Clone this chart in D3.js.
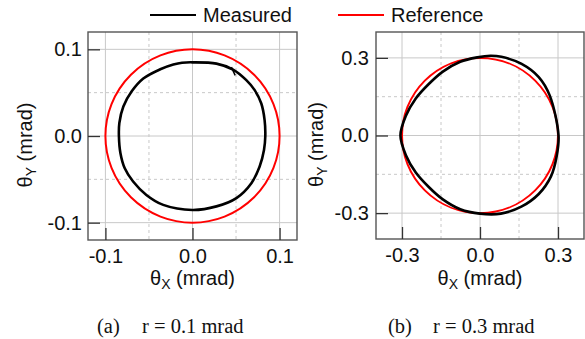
<!DOCTYPE html>
<html lang="en">
<head>
    <meta charset="UTF-8">
    <title>Measured vs reference circles</title>
    <script src="https://cdn.jsdelivr.net/npm/d3@7"></script>
    <style>
        body { margin: 0; background: #fff; }
        text { font-family: "Liberation Sans", Arial, sans-serif; fill: #111; }
        .caption { font-family: "Liberation Serif", "Times New Roman", serif; }
    </style>
</head>
<body>
    <svg width="585" height="339"></svg>
    <script>
        // measured trace, panel (a), r = 0.1 mrad
        const measuredA = [
            [0.000, 0.0850], [-0.012, 0.0846], [-0.022, 0.0825],
            [-0.037, 0.0770], [-0.0565, 0.0663], [-0.0698, 0.0515], [-0.0794, 0.0340],
            [-0.0840, 0.0150], [-0.0845, 0.0], [-0.0828, -0.0195], [-0.0778, -0.0372],
            [-0.0682, -0.0525], [-0.0530, -0.0680], [-0.0336, -0.0795], [0.000, -0.0853],
            [0.0275, -0.0812], [0.0504, -0.0716], [0.0676, -0.0544], [0.0771, -0.0352],
            [0.0821, -0.0161], [0.0836, 0.0], [0.0828, 0.0184], [0.0790, 0.0375],
            [0.0714, 0.0529], [0.0618, 0.0644], [0.0466, 0.0766], [0.0275, 0.0835]
        ];
        const tailA = [[0.0447, 0.0795], [0.0490, 0.0700]];

        // measured trace, panel (b), r = 0.3 mrad
        const measuredB = [
            [0.302, 0.0], [0.268, 0.155], [0.226, 0.226], [0.160, 0.277],
            [0.082, 0.304], [0.040, 0.308], [-0.010, 0.302], [-0.076, 0.285],
            [-0.143, 0.247], [-0.198, 0.198], [-0.247, 0.143], [-0.285, 0.076],
            [-0.306, 0.0], [-0.285, -0.076], [-0.247, -0.143], [-0.198, -0.198],
            [-0.143, -0.247], [-0.076, -0.285], [0.000, -0.302], [0.080, -0.302],
            [0.159, -0.275], [0.226, -0.226], [0.273, -0.158], [0.295, -0.079]
        ];
        const tailB = [];

        const refRadius = [0.1, 0.3];
        const limits = [0.12, 0.4];
        const majorTicksA = [-0.1, 0.0, 0.1];
        const minorTicksA = [-0.05, 0.05];
        const majorTicksB = [-0.3, 0.0, 0.3];
        const minorTicksB = [-0.15, 0.15];
        const tickLabelsA = ["-0.1", "0.0", "0.1"];
        const tickLabelsB = ["-0.3", "0.0", "0.3"];
        const captionTags = ["(a)", "(b)"];
        const captionTexts = ["r = 0.1 mrad", "r = 0.3 mrad"];
        const legendNames = ["Measured", "Reference"];
        const legendColors = ["#000", "#f00"];

        const svg = d3.select("svg");

        const panels = [
            { box: [88, 32, 297, 240], lim: limits[0], ref: refRadius[0], data: measuredA, tail: tailA,
              major: majorTicksA, minor: minorTicksA, labels: tickLabelsA, ylabX: 32, ypad: 6,
              tag: captionTags[0], cap: captionTexts[0], tagX: 97, capX: 142 },
            { box: [376, 32, 584, 239], lim: limits[1], ref: refRadius[1], data: measuredB, tail: tailB,
              major: majorTicksB, minor: minorTicksB, labels: tickLabelsB, ylabX: 323, ypad: 7,
              tag: captionTags[1], cap: captionTexts[1], tagX: 388, capX: 433 }
        ];

        panels.forEach(p => {
            const [x0, y0, x1, y1] = p.box;
            const x = d3.scaleLinear().domain([-p.lim, p.lim]).range([x0, x1]);
            const y = d3.scaleLinear().domain([-p.lim, p.lim]).range([y1, y0]);
            const g = svg.append("g");

            // grid
            g.selectAll(".gx").data(p.major).enter().append("line")
                .attr("x1", d => x(d)).attr("x2", d => x(d)).attr("y1", y0).attr("y2", y1)
                .attr("stroke", "#c8c8c8").attr("stroke-width", 1);
            g.selectAll(".gy").data(p.major).enter().append("line")
                .attr("y1", d => y(d)).attr("y2", d => y(d)).attr("x1", x0).attr("x2", x1)
                .attr("stroke", "#c8c8c8").attr("stroke-width", 1);
            g.selectAll(".mx").data(p.minor).enter().append("line")
                .attr("x1", d => x(d)).attr("x2", d => x(d)).attr("y1", y0).attr("y2", y1)
                .attr("stroke", "#c8c8c8").attr("stroke-dasharray", "3,3");
            g.selectAll(".my").data(p.minor).enter().append("line")
                .attr("y1", d => y(d)).attr("y2", d => y(d)).attr("x1", x0).attr("x2", x1)
                .attr("stroke", "#c8c8c8").attr("stroke-dasharray", "3,3");

            // reference circle
            g.append("ellipse")
                .attr("cx", x(0)).attr("cy", y(0))
                .attr("rx", x(p.ref) - x(0)).attr("ry", y(0) - y(p.ref))
                .attr("fill", "none").attr("stroke", legendColors[1]).attr("stroke-width", 2);

            // measured trace
            const line = d3.line().x(d => x(d[0])).y(d => y(d[1]));
            g.append("path")
                .attr("d", line.curve(d3.curveCatmullRomClosed)(p.data))
                .attr("fill", "none").attr("stroke", legendColors[0]).attr("stroke-width", 2.6);
            if (p.tail.length) {
                g.append("path")
                    .attr("d", d3.line().x(d => x(d[0])).y(d => y(d[1]))(p.tail))
                    .attr("fill", "none").attr("stroke", "#000").attr("stroke-width", 1.5);
            }

            // frame
            g.append("rect")
                .attr("x", x0).attr("y", y0).attr("width", x1 - x0).attr("height", y1 - y0)
                .attr("fill", "none").attr("stroke", "#555").attr("stroke-width", 1.4);

            // axes with inward ticks
            const xAxis = d3.axisBottom(x).tickValues(p.major).tickSizeInner(-12).tickSizeOuter(0)
                .tickFormat((d, i) => p.labels[i]).tickPadding(9);
            const ax = g.append("g").attr("transform", `translate(0,${y1})`).call(xAxis);
            const yAxis = d3.axisLeft(y).tickValues(p.major).tickSizeInner(-12).tickSizeOuter(0)
                .tickFormat((d, i) => p.labels[i]).tickPadding(p.ypad);
            const ay = g.append("g").attr("transform", `translate(${x0},0)`).call(yAxis);
            [ax, ay].forEach(a => {
                a.select(".domain").remove();
                a.selectAll("line").attr("stroke", "#333").attr("stroke-width", 1.3);
                a.selectAll("text").attr("font-size", 20).attr("font-family", "Liberation Sans, Arial, sans-serif").attr("fill", "#111");
            });

            // axis titles
            const xt = g.append("text").attr("x", x(0)).attr("y", 285)
                .attr("text-anchor", "middle").attr("font-size", 20);
            xt.append("tspan").text("θ");
            xt.append("tspan").text("X").attr("font-size", 14).attr("dy", 4);
            xt.append("tspan").text(" (mrad)").attr("dy", -4);

            const yt = g.append("text")
                .attr("transform", `translate(${p.ylabX},${y(0) + 9}) rotate(-90)`)
                .attr("text-anchor", "middle").attr("font-size", 20);
            yt.append("tspan").text("θ");
            yt.append("tspan").text("Y").attr("font-size", 14).attr("dy", 4);
            yt.append("tspan").text(" (mrad)").attr("dy", -4);

            // caption
            g.append("text").attr("class", "caption").attr("x", p.tagX).attr("y", 333)
                .attr("font-size", 20.5).text(p.tag);
            g.append("text").attr("class", "caption").attr("x", p.capX).attr("y", 333)
                .attr("font-size", 20.5).text(p.cap);
        });

        // legend
        const legX = [150, 338];
        legendNames.forEach((name, i) => {
            svg.append("line").attr("x1", legX[i]).attr("x2", legX[i] + 46)
                .attr("y1", 15).attr("y2", 15)
                .attr("stroke", legendColors[i]).attr("stroke-width", 2);
            svg.append("text").attr("x", legX[i] + 53).attr("y", 22)
                .attr("font-size", 20).text(name);
        });
    </script>
</body>
</html>
